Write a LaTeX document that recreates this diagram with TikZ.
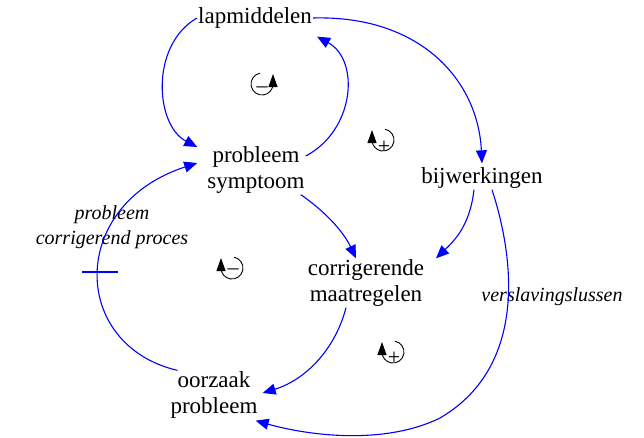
\documentclass[tikz,border=0pt]{standalone}
\usepackage{fontspec}
\setmainfont{Liberation Serif}
\usetikzlibrary{arrows.meta}
\tikzset{
  var/.style={font=\fontsize{23}{26}\selectfont, align=center, inner sep=1pt},
  note/.style={font=\fontsize{20}{25}\selectfont\itshape, align=center, inner sep=1pt},
  link/.style={blue, line width=1.1pt, -{Triangle[length=13pt,width=11pt]}},
  lus/.style={line width=0.9pt, -{Triangle[length=13pt,width=9pt]}},
  sign/.style={font=\fontsize{22}{22}\selectfont, inner sep=0pt},
  lusL/.pic={\draw[lus] (80:11) arc[start angle=80,end angle=-180,radius=11] -- ++(0,10);},
  lusR/.pic={\draw[lus] (100:11) arc[start angle=100,end angle=360,radius=11] -- ++(0,10);},
}
\begin{document}
\begin{tikzpicture}[x=1pt,y=1pt]
\useasboundingbox (0,0) rectangle (644,-437);
% variables
\node[var] (lap) at (255,-18) {lapmiddelen};
\node[var] (sym) at (256,-170) {probleem\\symptoom};
\node[var] (bij) at (482,-178) {bijwerkingen};
\node[var] (cor) at (366,-283) {corrigerende\\maatregelen};
\node[var] (oor) at (214,-395) {oorzaak\\probleem};
\node[note] (pcp) at (112,-227) {probleem\\corrigerend proces};
\node[note] (ver) at (552,-297) {verslavingslussen};
% links
\draw[link] (lap.west) .. controls (150,-45) and (155,-125) .. ([xshift=-9pt,yshift=23pt]sym.west);
\draw[link] ([yshift=14pt]sym.east) .. controls (355,-130) and (360,-60) .. ([xshift=4pt,yshift=-7pt]lap.south east);
\draw[link] (lap.east) .. controls (420,-15) and (478,-80) .. ([yshift=3pt]bij.north);
\draw[link] ([xshift=-5pt]sym.south east) .. controls (330,-215) and (345,-235) .. ([xshift=-10pt]cor.north);
\draw[link] ([xshift=-8pt]bij.south) .. controls (470,-225) and (455,-240) .. ([xshift=70pt]cor.north);
\draw[link] ([xshift=-20pt]cor.south) .. controls (335,-350) and (305,-380) .. ([xshift=4pt,yshift=2pt]oor.east);
\draw[link] ([xshift=8pt]oor.north west) .. controls (70,-345) and (68,-205) .. ([xshift=-9pt,yshift=7pt]sym.west);
\draw[link] ([xshift=10pt]bij.south) .. controls (518,-270) and (522,-370) .. (440,-418)
  .. controls (385,-445) and (310,-436) .. ([xshift=-3pt,yshift=-1pt]oor.south east);
% delay
\draw[blue, line width=1.1pt] (82,-272) -- (118,-272);
% loops
\pic at (262,-84) {lusR};
\node[sign] at (262,-90) {--};
\pic at (383,-140) {lusL};
\node[sign] at (384,-147) {+};
\pic at (232,-268) {lusL};
\node[sign] at (233,-272) {--};
\pic at (393,-352) {lusL};
\node[sign] at (394,-358) {+};
\end{tikzpicture}
\end{document}
